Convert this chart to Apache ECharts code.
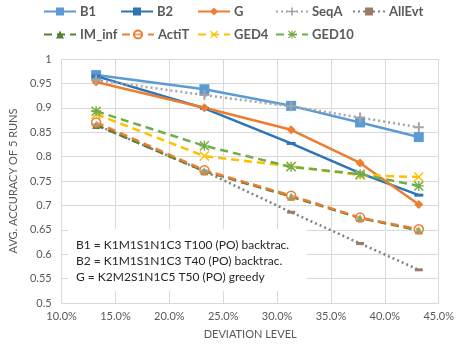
<!DOCTYPE html>
<html>
<head>
<meta charset="utf-8">
<script src="https://cdn.jsdelivr.net/npm/echarts@6/dist/echarts.min.js"></script>
<style>
  html, body { margin: 0; padding: 0; background: #fff; }
  #main { width: 457px; height: 348px; }
</style>
</head>
<body>
<div id="main"></div>
<script>
// deviation levels (%)
var levels = [13.2, 23.25, 31.3, 37.7, 43.15];

var b1 = [0.967, 0.938, 0.904, 0.870, 0.840];
var b2 = [0.965, 0.899, 0.827, 0.766, 0.721];
var g = [0.953, 0.900, 0.855, 0.787, 0.702];
var seqA = [0.957, 0.926, 0.903, 0.880, 0.860];
var allEvt = [0.865, 0.770, 0.686, 0.622, 0.568];
var imInf = [0.865, 0.770, 0.718, 0.674, 0.649];
var actiT = [0.870, 0.772, 0.720, 0.675, 0.651];
var ged4 = [0.887, 0.801, 0.780, 0.762, 0.758];
var ged10 = [0.893, 0.822, 0.779, 0.764, 0.740];

var legendRow1 = ['B1', 'B2', 'G', 'SeqA', 'AllEvt'];
var legendRow2 = ['IM_inf', 'ActiT', 'GED4', 'GED10'];

var noteLines = [
  'B1 = K1M1S1N1C3 T100 (PO) backtrac.',
  'B2 = K1M1S1N1C3 T40 (PO) backtrac.',
  'G = K2M2S1N1C5 T50 (PO) greedy'
];

var FONT = 'Lato, "Open Sans", sans-serif';
var PLUS = 'path://M4,0H6V4H10V6H6V10H4V6H0V4H4Z';
var CROSS = 'path://M0,1L1,0L5,4L9,0L10,1L6,5L10,9L9,10L5,6L1,10L0,9L4,5Z';
var STAR = 'path://M4.3,0H5.7V4.3H10V5.7H5.7V10H4.3V5.7H0V4.3H4.3Z M1,0L5,4L9,0L10,1L6,5L10,9L9,10L5,6L1,10L0,9L4,5L0,1Z';

function pts(arr) {
  var out = [];
  for (var i = 0; i < arr.length; i++) out.push([levels[i], arr[i]]);
  return out;
}

function line(name, data, color, type, symbol, size, extra) {
  var s = {
    name: name,
    type: 'line',
    data: pts(data),
    symbol: symbol,
    symbolSize: size,
    showAllSymbol: true,
    lineStyle: { color: color, width: 2.5, type: type },
    itemStyle: { color: color },
    emphasis: { disabled: true },
    animation: false
  };
  if (extra) for (var k in extra) s[k] = extra[k];
  return s;
}

var chart = echarts.init(document.getElementById('main'));

var legendText = { color: '#595959', fontSize: 13, fontWeight: 'bold', fontFamily: FONT, padding: [0, 0, 0, -1] };
var legends = [];
var rowLefts = [[43, 120, 197, 275, 352], [43, 121, 197, 275]];
[legendRow1, legendRow2].forEach(function (row, r) {
  row.forEach(function (nm, i) {
    legends.push({
      data: [nm], left: rowLefts[r][i], top: r === 0 ? 5 : 28, padding: 0,
      itemWidth: 32, itemHeight: 10, textStyle: legendText
    });
  });
});

var option = {
  backgroundColor: '#fff',
  textStyle: { fontFamily: FONT },
  legend: legends,
  grid: { left: 58, right: 11, top: 59, bottom: 45, containLabel: false },
  xAxis: {
    type: 'value', min: 10, max: 45, interval: 5,
    name: 'DEVIATION LEVEL', nameLocation: 'middle', nameGap: 26,
    nameTextStyle: { color: '#595959', fontSize: 11, fontFamily: FONT },
    axisLine: { show: true, lineStyle: { color: '#d9d9d9' } },
    axisTick: { show: false },
    axisLabel: { color: '#595959', fontSize: 11, formatter: function (v) { return v.toFixed(1) + '%'; } },
    splitLine: { show: true, lineStyle: { color: '#d9d9d9' } }
  },
  yAxis: {
    type: 'value', min: 0.5, max: 1, interval: 0.05,
    name: 'AVG. ACCURACY OF 5 RUNS', nameLocation: 'middle', nameGap: 38,
    nameTextStyle: { color: '#595959', fontSize: 11, fontFamily: FONT },
    axisLine: { show: false },
    axisTick: { show: false },
    axisLabel: { color: '#595959', fontSize: 11, margin: 10, formatter: function (v) { return String(+v.toFixed(2)); } },
    splitLine: { show: true, lineStyle: { color: '#d9d9d9' } }
  },
  graphic: [
    {
      type: 'rect', z: 50, left: 68, top: 229,
      shape: { width: 238, height: 62 },
      style: { fill: '#fff' }
    },
    {
      type: 'text', z: 51, left: 76, top: 237,
      style: {
        text: noteLines.join('\n'),
        fill: '#262626', fontSize: 12, lineHeight: 16, fontFamily: FONT
      }
    }
  ],
  series: [
    line('B1', b1, '#5B9BD5', 'solid', 'rect', 10),
    line('B2', b2, '#2E75B6', 'solid', 'rect', [9, 3]),
    line('G', g, '#ED7D31', 'solid', 'diamond', 9),
    line('SeqA', seqA, '#A5A5A5', [2, 3], PLUS, 10),
    line('AllEvt', allEvt, '#808080', [2, 3], 'rect', [8, 3], { itemStyle: { color: '#9C7A6A' } }),
    line('IM_inf', imInf, '#548235', [8, 5], 'triangle', 8),
    line('ActiT', actiT, '#ED7D31', [8, 5], 'circle', 9, { itemStyle: { color: 'rgba(255,255,255,0.3)', borderColor: '#ED7D31', borderWidth: 1.5 } }),
    line('GED4', ged4, '#FFC000', [8, 5], CROSS, 10),
    line('GED10', ged10, '#70AD47', [8, 5], STAR, 10)
  ]
};

chart.setOption(option);
</script>
</body>
</html>
